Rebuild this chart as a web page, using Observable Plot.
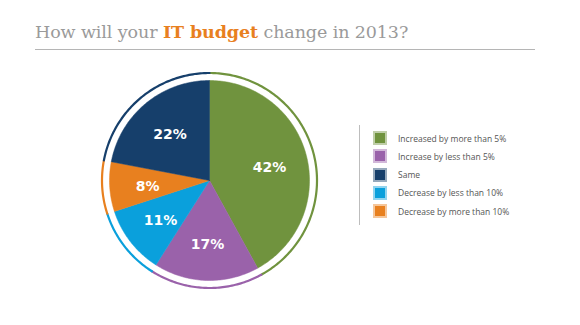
<!DOCTYPE html>
<html>
<head>
<meta charset="utf-8">
<script src="https://cdn.jsdelivr.net/npm/d3@7"></script>
<script src="https://cdn.jsdelivr.net/npm/@observablehq/plot@0.6"></script>
<style>
  body { margin: 0; background: #fff; }
  #wrap { position: relative; width: 580px; height: 325px; overflow: hidden; }
  #title { position: absolute; left: 35px; top: 22px; font-family: "DejaVu Serif", serif; font-size: 17.5px; color: #9a9a9a; white-space: nowrap; letter-spacing: -0.1px; }
  #title b { color: #e8801f; }
  #rule { position: absolute; left: 35px; top: 49px; width: 500px; height: 1px; background: #b5b5b5; }
  #legend { position: absolute; left: 359px; top: 125px; width: 200px; height: 100px; border-left: 1px solid #bdbdbd; }
  .row { position: absolute; left: 13px; height: 14px; display: flex; align-items: center; font-family: "Open Sans", sans-serif; font-size: 8.5px; color: #555; white-space: nowrap; }
  .sw { width: 10px; height: 10px; border: 2px solid; margin-right: 11px; box-sizing: content-box; }
</style>
</head>
<body>
<div id="wrap">
  <div id="title">How will your <b>IT budget</b> change in 2013?</div>
  <div id="rule"></div>
  <div id="chart"></div>
  <div id="legend"></div>
</div>
<script>
// Data
const categories = ["Increased by more than 5%", "Increase by less than 5%", "Same", "Decrease by less than 10%", "Decrease by more than 10%"];
const shares = [42, 17, 22, 11, 8];
const colors = ["#70933e", "#9a62aa", "#163f6b", "#0aa0dc", "#e8801f"];
const pieOrder = ["Increased by more than 5%", "Increase by less than 5%", "Decrease by less than 10%", "Decrease by more than 10%", "Same"];

const total = d3.sum(shares);
let acc = 0;
const slices = pieOrder.map(name => {
  const i = categories.indexOf(name);
  const a0 = acc / total * 2 * Math.PI;
  acc += shares[i];
  const a1 = acc / total * 2 * Math.PI;
  return {name, value: shares[i], color: colors[i], a0, a1};
});

function arcPts(s, r) {
  const n = Math.max(2, Math.ceil((s.a1 - s.a0) / (Math.PI / 180)));
  const pts = [];
  for (let k = 0; k <= n; k++) {
    const a = s.a0 + (s.a1 - s.a0) * k / n;
    pts.push({name: s.name, x: r * Math.sin(a), y: r * Math.cos(a)});
  }
  return pts;
}

const wedgePts = slices.flatMap(s => [{name: s.name, x: 0, y: 0}, ...arcPts(s, 1), {name: s.name, x: 0, y: 0}]);
const ringPts = slices.flatMap(s => arcPts(s, 1.075));
const labels = slices.map(s => {
  const a = (s.a0 + s.a1) / 2;
  return {name: s.name, text: s.value + "%", x: 0.62 * Math.sin(a), y: 0.62 * Math.cos(a)};
});

const color = {domain: categories, range: colors};

const chart = Plot.plot({
  width: 580, height: 325,
  margin: 0,
  x: {domain: [-2.09, 3.71], axis: null},
  y: {domain: [-1.45, 1.8], axis: null},
  color,
  marks: [
    Plot.line(wedgePts, {x: "x", y: "y", z: "name", fill: "name", stroke: "name", strokeWidth: 0.5}),
    Plot.line(ringPts, {x: "x", y: "y", z: "name", stroke: "name", strokeWidth: 2.2}),
    Plot.text(labels, {x: "x", y: "y", dy: 2, text: "text", fill: "white", fontSize: 14, fontWeight: "bold", fontFamily: "DejaVu Sans"})
  ]
});
document.getElementById("chart").appendChild(chart);

const legend = document.getElementById("legend");
categories.forEach((c, i) => {
  const row = document.createElement("div");
  row.className = "row";
  row.style.top = (6 + i * 18.3) + "px";
  const sw = document.createElement("div");
  sw.className = "sw";
  sw.style.background = colors[i];
  sw.style.borderColor = d3.interpolateRgb(colors[i], "#ffffff")(0.55);
  row.appendChild(sw);
  row.appendChild(document.createTextNode(c));
  legend.appendChild(row);
});
</script>
</body>
</html>
